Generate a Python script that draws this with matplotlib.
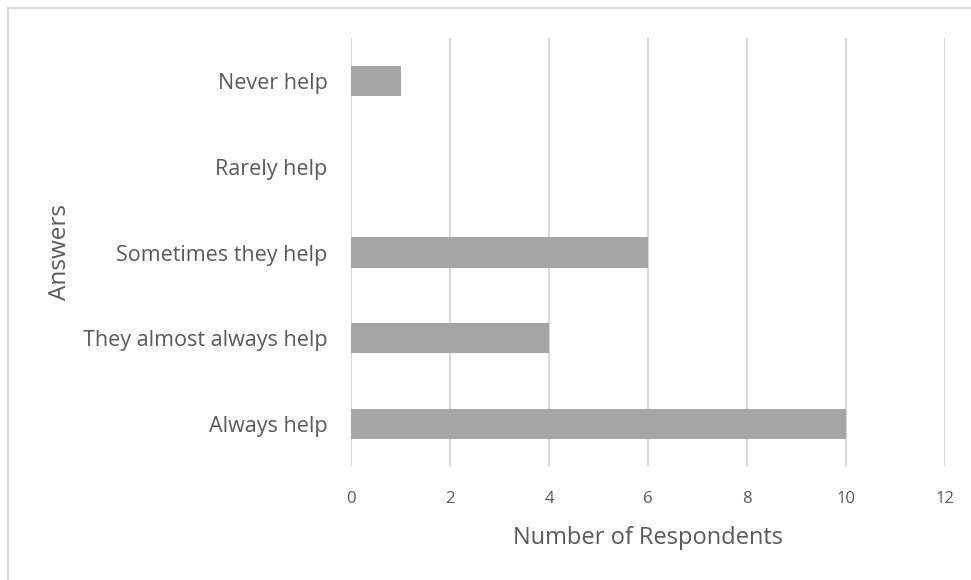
import matplotlib.pyplot as plt
from matplotlib.patches import Rectangle

answers = ['Always help', 'They almost always help', 'Sometimes they help', 'Rarely help', 'Never help']
respondents = [10, 4, 6, 0, 1]
x_ticks = [0, 2, 4, 6, 8, 10, 12]

plt.rcParams['font.family'] = ['Open Sans', 'DejaVu Sans']
text_color = '#595959'

fig = plt.figure(figsize=(9.71, 5.8), dpi=100)
ax = fig.add_axes([351 / 971, 1 - 467 / 580, (945 - 351) / 971, (467 - 38) / 580])

ax.barh(range(len(answers)), respondents, height=0.35, color='#A5A5A5', zorder=3)

ax.set_xlim(0, 12)
ax.set_ylim(-0.5, len(answers) - 0.5)
ax.set_xticks(x_ticks)
ax.set_xticklabels([str(t) for t in x_ticks], fontsize=12, color=text_color)
ax.set_yticks(range(len(answers)))
ax.set_yticklabels(answers, fontsize=15.5, color=text_color)
ax.tick_params(axis='both', length=0)
ax.tick_params(axis='x', pad=17.5)
ax.tick_params(axis='y', pad=17)
ax.grid(axis='x', color='#D9D9D9', linewidth=1.5, zorder=0)
for s in ax.spines.values():
    s.set_visible(False)

ax.set_xlabel('Number of Respondents', fontsize=17, color=text_color)
ax.xaxis.set_label_coords(0.5, -0.138)
ax.set_ylabel('Answers', fontsize=17.5, color=text_color)
ax.yaxis.set_label_coords(-0.47, 0.5)

# chart border
fig.patches.append(Rectangle((8 / 971, -0.1), 1.2, 1 - 8 / 580 + 0.1, transform=fig.transFigure,
                             fill=False, edgecolor='#D9D9D9', linewidth=1.5))

fig.savefig('out.png', dpi=100)
